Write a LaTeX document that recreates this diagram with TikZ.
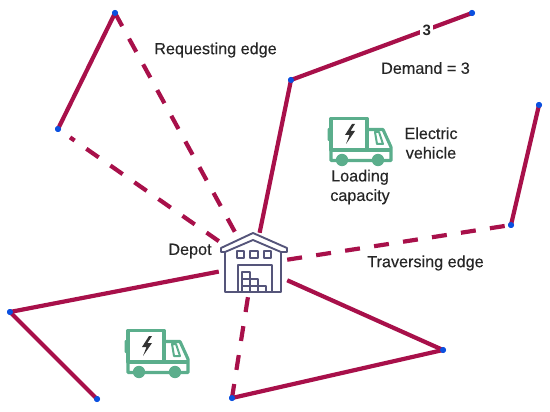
\documentclass[tikz,border=0pt]{standalone}
\usepackage{fontspec}
\setmainfont{Liberation Sans}
\newfontfamily\labfont[FakeBold=0.25]{Liberation Sans}
\definecolor{edgec}{HTML}{A8104A}
\definecolor{dotc}{HTML}{0B50E0}
\definecolor{truckc}{HTML}{5BAE8C}
\definecolor{depotc}{HTML}{55557A}
\definecolor{boltc}{HTML}{333333}
\tikzset{
  x=1pt,y=-1pt,
  cust/.style={circle,fill=dotc,draw=none,minimum size=6pt,inner sep=0pt},
  solidedge/.style={draw=edgec,line width=4.2pt},
  reqedge/.style={draw=edgec,line width=4.2pt,dash pattern=on 15pt off 14.3pt},
  lab/.style={font=\labfont\fontsize{16.2}{19.5}\selectfont,text=black!85,align=center,inner sep=0pt},
  truckicon/.pic={
    \begin{scope}[draw=truckc,line width=3.1pt,line join=round]
      \draw (331,118.5) rectangle (367,150);
      \draw (331,150) -- (331,160.5) -- (391,160.5) -- (391,147) -- (383,129.5) -- (367,129.5);
      \draw (367,150) -- (391,150);
      \draw[line width=2pt] (375,132) -- (379,132) -- (383,144) -- (377,144) -- cycle;
      \fill[truckc] (342,160) circle (6.2);
      \fill[truckc] (378,160) circle (6.2);
      \fill[truckc,rounded corners=1pt] (327.5,128) rectangle (331,141);
    \end{scope}
    \fill[boltc] (352,124) -- (345,135) -- (349.5,135) -- (346,144) -- (355,131) -- (350.5,131) -- (355,124) -- cycle;
  },
}
\begin{document}
\begin{tikzpicture}
\useasboundingbox (0,0) rectangle (550,412);
\node[cust] (a) at (115,13) {};
\node[cust] (b) at (58,129) {};
\node[cust] (c) at (291,80) {};
\node[cust] (d) at (472,13) {};
\node[cust] (e) at (539,105) {};
\node[cust] (f) at (511,225) {};
\node[cust] (g) at (10,312) {};
\node[cust] (h) at (97,399) {};
\node[cust] (i) at (232,398) {};
\node[cust] (j) at (443,350) {};
\node[minimum width=68pt,minimum height=64pt,inner sep=0pt] (depot) at (253,265) {};
% connectors
\draw[solidedge] (a.center) -- (b.center);
\draw[solidedge] (c.center) -- (d.center) node[pos=0.75,yshift=-1pt,fill=white,inner sep=2.5pt,font=\fontsize{15}{17}\selectfont\bfseries,text=black!85] (dem) {3};
\draw[solidedge] (e.center) -- (f.center);
\draw[solidedge] (g.center) -- (h.center);
\draw[solidedge] (i.center) -- (j.center);
\draw[solidedge] (c.center) -- (depot);
\draw[solidedge] (g.center) -- (depot);
\draw[solidedge] (j.center) -- (depot);
\draw[reqedge] (a.center) -- (depot);
\draw[reqedge,shorten >=14.7pt] (depot) -- (b.center);
\draw[reqedge] (depot) -- (f.center);
\draw[reqedge] (depot) -- (i.center);
\foreach \n/\x/\y in {a/115/13,b/58/129,c/291/80,d/472/13,e/539/105,f/511/225,g/10/312,h/97/399,i/232/398,j/443/350}
  \node[cust] at (\x,\y) {};
% depot icon
\begin{scope}[draw=depotc,line width=1.9pt,line join=round]
  \draw (221,248) -- (253,233) -- (287,248) -- (287,252) -- (281,252) -- (253,240) -- (225,252) -- (221,252) -- cycle;
  \draw (225,252) -- (225,292) -- (281,292) -- (281,252);
  \draw (237,251) rectangle (244,258);
  \draw (250,251) rectangle (258,258);
  \draw (264,251) rectangle (271,258);
  \draw (238,292) -- (238,265) -- (272,265) -- (272,292);
  \begin{scope}[line width=1.4pt]
    \draw (242,272) rectangle (250,279);
    \draw (242,279) rectangle (250,286);
    \draw (242,286) rectangle (250,292);
    \draw (250,279) rectangle (258,286);
    \draw (250,286) rectangle (258,292);
    \draw (258,286) rectangle (266,292);
  \end{scope}
\end{scope}
% trucks
\pic at (0,0) {truckicon};
\pic at (-203,212) {truckicon};
% labels
\node[lab] (lreq) at (215.5,50) {Requesting edge};
\node[lab] (ldem) at (425.5,68) {Demand = 3};
\node[lab] (lev) at (431,143) {Electric\\vehicle};
\node[lab] (lcap) at (360,187) {Loading\\capacity};
\node[lab] (ldep) at (190,251) {Depot};
\node[lab] (ltra) at (425.5,263) {Traversing edge};
\end{tikzpicture}
\end{document}
